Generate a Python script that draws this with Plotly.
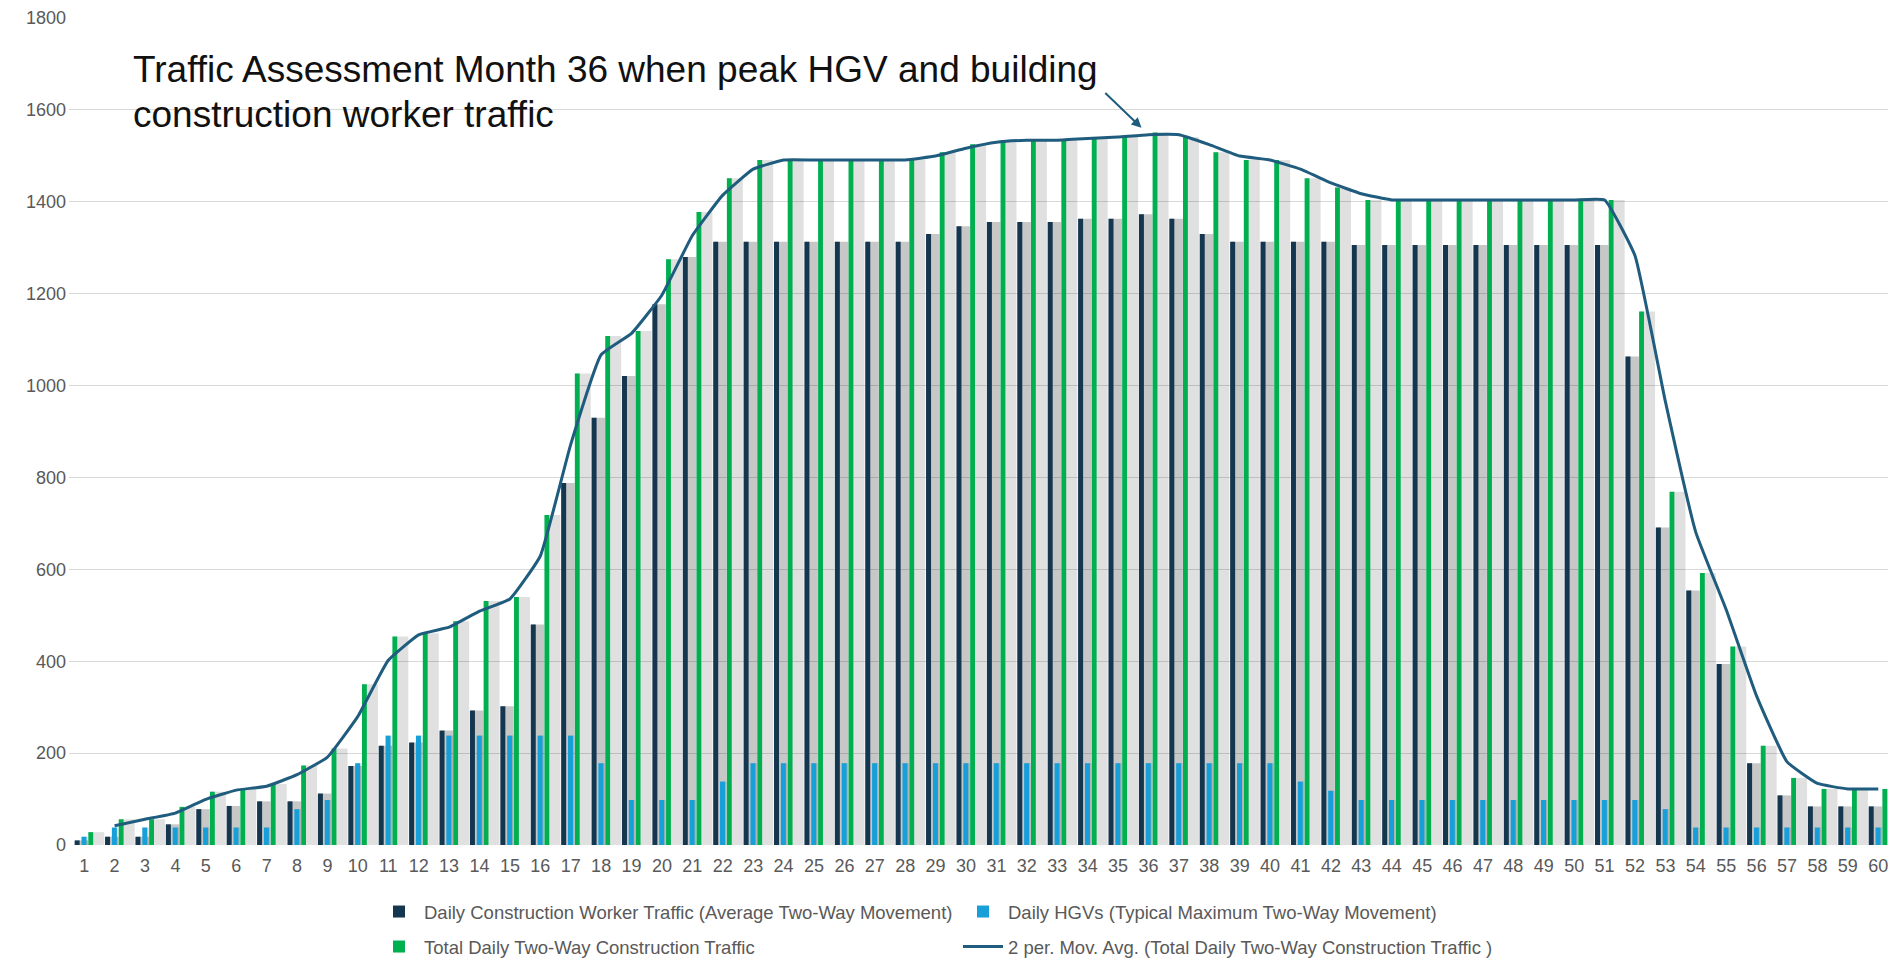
import plotly.graph_objects as go

months = list(range(1, 61))
month_labels = [str(m) for m in months]

worker = [10, 18, 18, 45, 78, 85, 95, 95, 112, 172,
          216, 223, 249, 293, 302, 480, 788, 930, 1021, 1177,
          1280, 1313, 1313, 1313, 1313, 1313, 1313, 1313, 1330, 1347,
          1356, 1356, 1356, 1363, 1363, 1373, 1363, 1330, 1313, 1313,
          1313, 1313, 1306, 1306, 1306, 1306, 1306, 1306, 1306, 1306,
          1306, 1063, 691, 554, 394, 178, 108, 84, 84, 84]

hgv = [18, 38, 38, 38, 38, 38, 38, 78, 98, 178,
       238, 238, 238, 238, 238, 238, 238, 178, 98, 98,
       98, 138, 178, 178, 178, 178, 178, 178, 178, 178,
       178, 178, 178, 178, 178, 178, 178, 178, 178, 178,
       138, 118, 98, 98, 98, 98, 98, 98, 98, 98,
       98, 98, 78, 38, 38, 38, 38, 38, 38, 38]

total = [28, 56, 56, 83, 116, 123, 133, 173, 210, 350,
         454, 461, 487, 531, 540, 718, 1026, 1108, 1119, 1275,
         1378, 1451, 1491, 1491, 1491, 1491, 1491, 1491, 1508, 1525,
         1534, 1534, 1534, 1541, 1541, 1551, 1541, 1508, 1491, 1491,
         1451, 1431, 1404, 1404, 1404, 1404, 1404, 1404, 1404, 1404,
         1404, 1161, 769, 592, 432, 216, 146, 122, 122, 122]

mov_avg = [None, 42, 56, 69.5, 99.5, 119.5, 128, 153, 191.5, 280,
           402, 457.5, 474, 509, 535.5, 629, 872, 1067, 1113.5, 1197,
           1326.5, 1414.5, 1471, 1491, 1491, 1491, 1491, 1491, 1499.5, 1516.5,
           1529.5, 1534, 1534, 1537.5, 1541, 1546, 1546, 1524.5, 1499.5, 1491,
           1471, 1441, 1417.5, 1404, 1404, 1404, 1404, 1404, 1404, 1404,
           1404, 1282.5, 965, 680.5, 512, 324, 181, 134, 122, 122]

names = [
    "Daily Construction Worker Traffic (Average Two-Way Movement)",
    "Daily HGVs (Typical Maximum Two-Way Movement)",
    "Total Daily Two-Way Construction Traffic",
    "2 per. Mov. Avg. (Total Daily Two-Way Construction Traffic )",
]

C_WORKER = "#15364f"
C_HGV = "#179fda"
C_TOTAL = "#00b050"
C_LINE = "#1f5c7e"

fig = go.Figure()

# soft drop shadows behind the bars
for vals, off, wid, alpha in [(worker, -0.29, 0.42, 0.22),
                              (hgv, -0.07, 0.20, 0.10),
                              (total, 0.16, 0.50, 0.12)]:
    fig.add_trace(go.Bar(x=months, y=vals, offset=off, width=wid,
                         marker=dict(color=f"rgba(0,0,0,{alpha})", line=dict(width=0)),
                         showlegend=False, hoverinfo="skip"))

fig.add_trace(go.Bar(x=months, y=worker, name=names[0], offset=-0.315, width=0.165,
                     marker=dict(color=C_WORKER, line=dict(width=0)), legend="legend"))
fig.add_trace(go.Bar(x=months, y=hgv, name=names[1], offset=-0.09, width=0.165,
                     marker=dict(color=C_HGV, line=dict(width=0)), legend="legend"))
fig.add_trace(go.Bar(x=months, y=total, name=names[2], offset=0.135, width=0.16,
                     marker=dict(color=C_TOTAL, line=dict(width=0)), legend="legend2"))
fig.add_trace(go.Scatter(x=months, y=mov_avg, name=names[3], mode="lines",
                         line=dict(color=C_LINE, width=3, shape="spline", smoothing=0.35),
                         legend="legend2"))

ann_font = dict(family="Liberation Sans, Arial, sans-serif", size=37, color="#111111")
annotations = [
    dict(x=2.54, y=1689, xref="x", yref="y", xanchor="left", yanchor="middle",
         text="Traffic Assessment Month 36 when peak HGV and building",
         showarrow=False, font=ann_font),
    dict(x=2.54, y=1590, xref="x", yref="y", xanchor="left", yanchor="middle",
         text="construction worker traffic", showarrow=False, font=ann_font),
    dict(x=35.77, y=1561, ax=34.53, ay=1640, xref="x", yref="y", axref="x", ayref="y",
         text="", showarrow=True, arrowhead=2, arrowsize=1, arrowwidth=2,
         arrowcolor=C_LINE, standoff=0),
]

leg_font = dict(family="Liberation Sans, Arial, sans-serif", size=18.5, color="#595959")
fig.update_layout(
    width=1888, height=959,
    margin=dict(l=69, r=0, t=18, b=114, autoexpand=False),
    paper_bgcolor="white", plot_bgcolor="white",
    barmode="overlay",
    annotations=annotations,
    font=dict(family="Liberation Sans, Arial, sans-serif", size=18, color="#595959"),
    xaxis=dict(range=[0.5, 60.32], tickmode="array", tickvals=months, ticktext=month_labels,
               showgrid=False, zeroline=False, showline=False, ticks="",
               tickfont=dict(size=18, color="#595959"), ticklabelstandoff=8,
               ticklabeloverflow="allow", automargin=False, fixedrange=True),
    yaxis=dict(range=[0, 1800], tickmode="linear", tick0=0, dtick=200,
               showgrid=True, gridcolor="#d9d9d9", gridwidth=1, zeroline=False,
               showline=False, ticks="", tickfont=dict(size=18, color="#595959"),
               ticklabelstandoff=2, automargin=False),
    legend=dict(orientation="h", xref="container", yref="container",
                x=374 / 1888, y=1 - 912 / 959, xanchor="left", yanchor="middle",
                entrywidth=529, entrywidthmode="pixels", itemwidth=40,
                font=leg_font, bgcolor="rgba(0,0,0,0)", traceorder="normal"),
    legend2=dict(orientation="h", xref="container", yref="container",
                 x=374 / 1888, y=1 - 947 / 959, xanchor="left", yanchor="middle",
                 entrywidth=529, entrywidthmode="pixels", itemwidth=40,
                 font=leg_font, bgcolor="rgba(0,0,0,0)", traceorder="normal"),
    showlegend=True,
)

fig.write_html("out.html", config={"displayModeBar": False},
               post_script="document.body.style.margin='0';document.body.style.overflow='hidden';")
